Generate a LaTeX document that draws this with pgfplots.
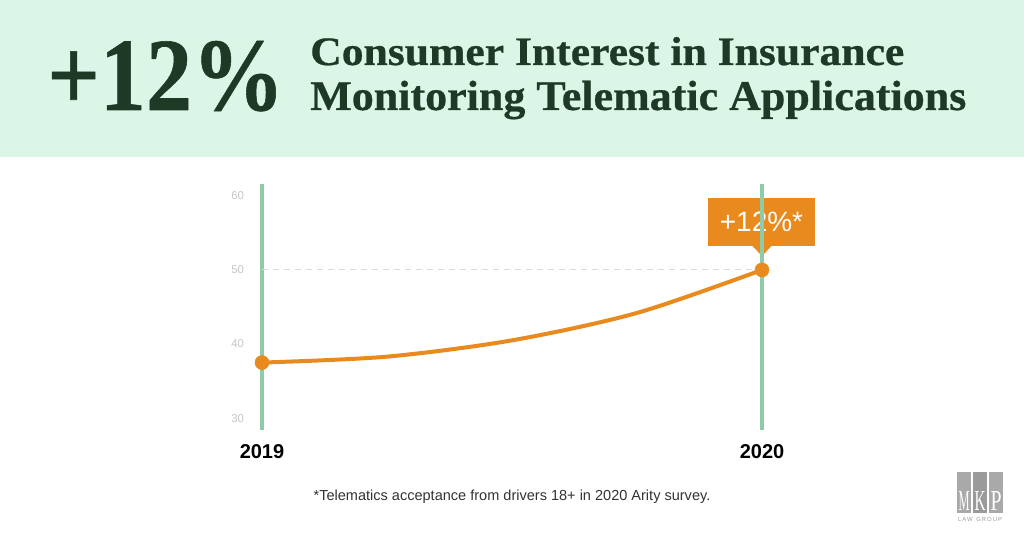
\documentclass[border=0pt]{standalone}
\usepackage{fontspec}
\setmainfont{Liberation Sans}
\newfontfamily\titleserif{Liberation Serif}[BoldFeatures={FakeBold=0.6}]
\usepackage{graphicx}
\usepackage{pgfplots}
\pgfplotsset{compat=1.18}
\definecolor{mint}{HTML}{DBF5E7}
\definecolor{dkgreen}{HTML}{1E3A27}
\definecolor{vgreen}{HTML}{8FCBA8}
\definecolor{orng}{HTML}{E88A1E}
\definecolor{ticklab}{HTML}{C6C6CB}
\definecolor{dashc}{HTML}{DADADF}
\definecolor{logog}{HTML}{9A9A9A}
\definecolor{foot}{HTML}{333333}
\begin{document}
\begin{tikzpicture}
\begin{scope}[x=0.75pt,y=0.75pt]
\fill[white] (0,0) rectangle (1024,535);
\fill[mint] (0,378) rectangle (1024,535);
\node[anchor=base west, inner sep=0, text=dkgreen] at (47,425)
  {\resizebox{177.75pt}{51.75pt}{\titleserif\bfseries +12\%}};
\node[anchor=base west, inner sep=0, text=dkgreen] at (310,470)
  {\resizebox{445.5pt}{21pt}{\titleserif\bfseries Consumer Interest in Insurance}};
\node[anchor=base west, inner sep=0, text=dkgreen] at (310,425)
  {\resizebox{492pt}{22pt}{\titleserif\bfseries Monitoring Telematic Applications}};
% callout
\fill[orng] (708,289) rectangle (815,337);
\fill[orng] (752,289.5) -- (772,289.5) -- (762,279) -- cycle;
\node[text=white, inner sep=0] at (761.5,313) {\fontsize{21}{24}\selectfont +12\%*};
% footnote
\node[anchor=base, inner sep=0, text=foot] at (512,34)
  {\fontsize{10.9}{13}\selectfont *Telematics acceptance from drivers 18+ in 2020 Arity survey.};
% logo
\fill[logog!85] (957,22) rectangle (971,63);
\fill[logog] (973,22) rectangle (987,63);
\fill[logog!110!black] (989,22) rectangle (1003,63);
\foreach \cx/\L in {964/M,980/K,996/P}{
  \node[anchor=base, inner sep=0, text=white] at (\cx,24) {\resizebox{8.25pt}{14.25pt}{\titleserif \L}};
}
\node[anchor=base, inner sep=0, text=logog] at (980,13) {\resizebox{33pt}{!}{\fontsize{5}{6}\selectfont L\,A\,W\, \,G\,R\,O\,U\,P}};
\end{scope}
\begin{axis}[
  at={(196.5pt,78.75pt)}, anchor=south west,
  scale only axis, width=375pt, height=184.5pt,
  xmin=2019, xmax=2020, ymin=28.4, ymax=61.6,
  axis line style={draw=none},
  major tick length=0pt,
  xtick={2019,2020}, xticklabels={2019,2020},
  ytick={30,40,50,60},
  yticklabel style={font=\fontsize{8.5}{10}\selectfont, text=ticklab, xshift=-10pt},
  xticklabel style={font=\fontsize{15}{18}\selectfont\bfseries, text=black, yshift=-7pt},
  /pgf/number format/assume math mode=true,
  clip=false,
]
\addplot[vgreen, line width=3pt] coordinates {(2019,28.4) (2019,61.6)};
\addplot[vgreen, line width=3pt] coordinates {(2020,28.4) (2020,61.6)};
\addplot[dashc, line width=0.8pt, dash pattern=on 4.5pt off 3.75pt] coordinates {(2019,50) (2020,50)};
\addplot[orng, line width=3pt, smooth] coordinates {(2019,37.5) (2019.25,38.3) (2019.5,40.5) (2019.75,44.2) (2020,50)};
\addplot[only marks, mark=*, mark size=5.25pt, orng] coordinates {(2019,37.5) (2020,50)};
\end{axis}
\pgfresetboundingbox
\path (0,0) rectangle (768pt,401.25pt);
\end{tikzpicture}
\end{document}
